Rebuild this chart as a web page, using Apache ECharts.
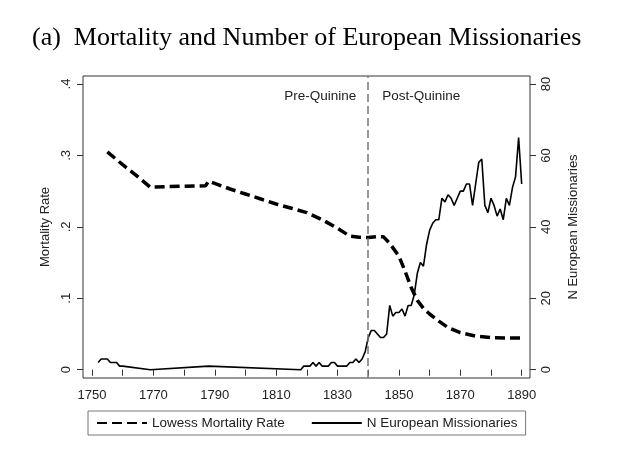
<!DOCTYPE html>
<html>
<head>
<meta charset="utf-8">
<script src="https://cdn.jsdelivr.net/npm/echarts@6/dist/echarts.min.js"></script>
<style>
html,body{margin:0;padding:0;background:#fff;}
#c{width:620px;height:468px;}
</style>
</head>
<body>
<div id="c"></div>
<script>
// ---- Data ----
const titleText = '(a)  Mortality and Number of European Missionaries';
const xTicks = [1750,1760,1770,1780,1790,1800,1810,1820,1830,1840,1850,1860,1870,1880,1890];
const xLabels = [1750,1770,1790,1810,1830,1850,1870,1890];
const leftTicks = [0,0.1,0.2,0.3,0.4];
const rightTicks = [0,20,40,60,80];
const quinineYear = 1840;

const mortalityYears = [1755,1760,1765,1769,1775,1780,1787,1788,1795,1800,1805,1810,1815,1820,1825,1830,1834,1837,1840,1843,1845,1847,1850,1852,1854,1856,1858,1860,1863,1866,1870,1875,1880,1885,1890];
const mortalityRate  = [0.305,0.287,0.270,0.2555,0.2565,0.257,0.2575,0.264,0.253,0.246,0.239,0.232,0.226,0.220,0.210,0.198,0.187,0.1855,0.185,0.1865,0.186,0.177,0.159,0.138,0.115,0.097,0.086,0.078,0.068,0.059,0.052,0.047,0.045,0.0445,0.0443];

const missionYears = [1752,1753,1754,1755,1756,1757,1758,1759,1760,1769,1788,1818,1819,1820,1821,1822,1823,1824,1825,1826,1827,1828,1829,1830,1831,1832,1833,1834,1835,1836,1837,1838,1839,1840,1841,1842,1843,1844,1845,1846,1847,1848,1849,1850,1851,1852,1853,1854,1855,1856,1857,1858,1859,1860,1861,1862,1863,1864,1865,1866,1867,1868,1869,1870,1871,1872,1873,1874,1875,1876,1877,1878,1879,1880,1881,1882,1883,1884,1885,1886,1887,1888,1889,1890];
const missionCount = [2,3,3,3,2,2,2,1,1,0,1,0,1,1,1,2,1,2,1,1,1,2,2,1,1,1,1,2,2,3,2,3,5,9,11,11,10,9,9,10,18,15,16,16,17,15,18,18,21,27,30,29,35,39,41,42,42,48,47,49,48,46,48,50,50,52,52,46,52,58,59,46,44,48,46,43,45,42,48,46,51,54,65,52];

const seriesNames = ['Lowess Mortality Rate','N European Missionaries'];

// ---- Chart ----
const chart = echarts.init(document.getElementById('c'), null, {renderer:'canvas'});
const sans = 'Liberation Sans, Arial, Helvetica, sans-serif';
const txt = '#222';

const option = {
  backgroundColor: '#fff',
  animation: false,
  title: {
    text: titleText,
    left: 27, top: 20,
    textStyle: {fontFamily: 'Palatino Linotype, Book Antiqua, Palatino, Liberation Serif, serif', fontSize: 26, fontWeight: 'normal', color: '#000'}
  },
  grid: {
    left: 83, right: 90, top: 76, bottom: 90,
    show: true, borderColor: '#333', borderWidth: 1, backgroundColor: '#fff'
  },
  legend: {
    left: 88, top: 411,
    data: seriesNames,
    itemWidth: 50, itemHeight: 12, itemGap: 26,
    padding: [5, 8, 5, 8],
    borderColor: '#777', borderWidth: 1,
    itemStyle: {opacity: 0},
    textStyle: {fontFamily: sans, fontSize: 13.5, color: txt}
  },
  xAxis: {
    type: 'value', min: 1747.07, max: 1892.71,
    axisLine: {show: false},
    splitLine: {show: false},
    axisTick: {show: true, customValues: xTicks, length: 6, lineStyle: {color: '#333'}},
    axisLabel: {customValues: xLabels, margin: 11, fontFamily: sans, fontSize: 13, color: txt,
      formatter: v => String(v)}
  },
  yAxis: [{
    type: 'value', min: -0.0116, max: 0.4112, position: 'left',
    name: 'Mortality Rate', nameLocation: 'middle', nameRotate: 90, nameGap: 30,
    nameTextStyle: {fontFamily: sans, fontSize: 13, color: txt},
    axisLine: {show: false}, splitLine: {show: false},
    axisTick: {show: true, customValues: leftTicks, length: 6, lineStyle: {color: '#333'}},
    axisLabel: {customValues: leftTicks, rotate: 90, margin: 10, fontFamily: sans, fontSize: 13, color: txt,
      formatter: v => v === 0 ? '0' : String(v).replace(/^0/, '')}
  }, {
    type: 'value', min: -2.32, max: 82.24, position: 'right',
    name: 'N European Missionaries', nameLocation: 'middle', nameRotate: 90, nameGap: 37,
    nameTextStyle: {fontFamily: sans, fontSize: 13, color: txt},
    axisLine: {show: false}, splitLine: {show: false},
    axisTick: {show: true, customValues: rightTicks, length: 6, lineStyle: {color: '#333'}},
    axisLabel: {customValues: rightTicks, rotate: 90, margin: 10, fontFamily: sans, fontSize: 13, color: txt,
      formatter: v => String(v)}
  }],
  series: [{
    name: seriesNames[0], type: 'line', yAxisIndex: 0,
    data: mortalityYears.map((y, i) => [y, mortalityRate[i]]),
    symbol: 'none', smooth: false,
    lineStyle: {color: '#000', width: 3.5, type: [10, 5]},
    itemStyle: {color: '#000'},
    markLine: {
      silent: true, symbol: 'none',
      lineStyle: {color: '#777', width: 1.5, type: [8, 4]},
      label: {show: false},
      data: [{xAxis: quinineYear}]
    },
    markPoint: {
      silent: true, symbol: 'circle', symbolSize: 0,
      data: [
        {coord: [quinineYear, 0.383], label: {show: true, formatter: 'Pre-Quinine', position: 'left', distance: 12, fontFamily: sans, fontSize: 13.5, color: txt}},
        {coord: [quinineYear, 0.383], label: {show: true, formatter: 'Post-Quinine', position: 'right', distance: 14, fontFamily: sans, fontSize: 13.5, color: txt}}
      ]
    }
  }, {
    name: seriesNames[1], type: 'line', yAxisIndex: 1,
    data: missionYears.map((y, i) => [y, missionCount[i]]),
    symbol: 'none', smooth: false,
    lineStyle: {color: '#000', width: 1.6},
    itemStyle: {color: '#000'}
  }]
};
chart.setOption(option);
</script>
</body>
</html>
